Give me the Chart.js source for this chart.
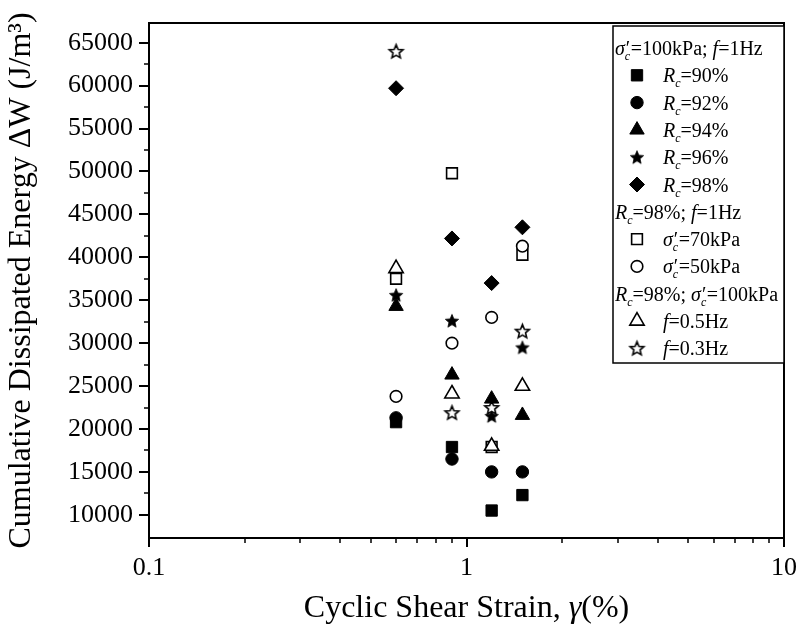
<!DOCTYPE html>
<html><head><meta charset="utf-8">
<script src="https://cdn.jsdelivr.net/npm/chart.js@4"></script>
<style>html,body{margin:0;padding:0;background:#fff;}#wrap{width:803px;height:626px;}</style>
</head><body>
<div id="wrap"><canvas id="c" width="803" height="626"></canvas></div>
<script>
// ---------- data ----------
const strain = [0.6, 0.9, 1.2, 1.5];
const rc90 = [20800, 17900, 10500, 12300];
const rc92 = [21300, 16500, 15000, 15000];
const rc94 = [34300, 26300, 23500, 21600];
const rc96 = [35600, 32600, 21500, 29500];
const rc98 = [59700, 42200, 37000, 43500];
const sig70 = [37500, 49800, 17900, 40300];
const sig50 = [23800, 30000, 33000, 41300];
const f05 = [38700, 24100, 18000, 25000];
const f03 = [64000, 21900, 22500, 31400];
const xTicks = [0.1, 1, 10];
const xMinor = [0.2,0.3,0.4,0.5,0.6,0.7,0.8,0.9,2,3,4,5,6,7,8,9];
const yTicks = [10000,15000,20000,25000,30000,35000,40000,45000,50000,55000,60000,65000];
const yMinor = [12500,17500,22500,27500,32500,37500,42500,47500,52500,57500,62500];

const FONT = '"Liberation Serif", "DejaVu Serif", serif';

function makeStar(r, filled){
  const s = Math.ceil(r*2 + 4);
  const cv = document.createElement('canvas');
  cv.width = s; cv.height = s;
  const c = cv.getContext('2d');
  const cx = s/2, cy = s/2 + r*0.08, ri = r*0.45;
  c.beginPath();
  for (let i = 0; i < 10; i++){
    const rr = i % 2 ? ri : r;
    const a = -Math.PI/2 + i*Math.PI/5;
    const px = cx + rr*Math.cos(a), py = cy + rr*Math.sin(a);
    i ? c.lineTo(px, py) : c.moveTo(px, py);
  }
  c.closePath();
  c.fillStyle = filled ? '#000' : '#fff';
  c.fill();
  c.lineJoin = 'miter';
  c.lineWidth = filled ? 0.8 : 1.6;
  c.strokeStyle = '#000';
  c.stroke();
  return cv;
}
const starFilled = makeStar(7, true);
const starOpen = makeStar(7.2, false);

function mk(label, vals, style, filled, r){
  return {
    label, data: strain.map((x, i) => ({x, y: vals[i]})),
    pointStyle: style, pointRadius: r, pointHoverRadius: r,
    backgroundColor: filled ? '#000' : '#fff', borderColor: '#000',
    borderWidth: filled ? 1 : 1.6, showLine: false
  };
}
const datasets = [
  mk('Rc=90%', rc90, 'rect', true, 8),
  mk('Rc=92%', rc92, 'circle', true, 6.2),
  mk('Rc=94%', rc94, 'triangle', true, 8.3),
  mk('Rc=96%', rc96, starFilled, true, 7),
  mk('Rc=98%', rc98, 'rectRot', true, 7.5),
  mk('70kPa', sig70, 'rect', false, 7.6),
  mk('50kPa', sig50, 'circle', false, 5.8),
  mk('0.5Hz', f05, 'triangle', false, 8.3),
  mk('0.3Hz', f03, starOpen, false, 7.2)
];
datasets.forEach((d, i) => d.order = datasets.length - i);

// ---------- legend rows ----------
const RC = [{t:'R', it:1}, {t:'c', it:1, sub:1}];
const SG = [{t:'σ', it:1}, {pc:1}];
const legendRows = [
  {parts: [...SG, {t:'=100kPa; '}, {t:'f', it:1}, {t:'=1Hz'}]},
  {ds: 0, parts: [...RC, {t:'=90%'}]},
  {ds: 1, parts: [...RC, {t:'=92%'}]},
  {ds: 2, parts: [...RC, {t:'=94%'}]},
  {ds: 3, parts: [...RC, {t:'=96%'}]},
  {ds: 4, parts: [...RC, {t:'=98%'}]},
  {parts: [...RC, {t:'=98%; '}, {t:'f', it:1}, {t:'=1Hz'}]},
  {ds: 5, parts: [...SG, {t:'=70kPa'}]},
  {ds: 6, parts: [...SG, {t:'=50kPa'}]},
  {parts: [...RC, {t:'=98%; '}, ...SG, {t:'=100kPa'}]},
  {ds: 7, parts: [{t:'f', it:1}, {t:'=0.5Hz'}]},
  {ds: 8, parts: [{t:'f', it:1}, {t:'=0.3Hz'}]}
];

function drawRich(ctx, x, y, parts, size){
  const sub = Math.round(size*0.62);
  for (const p of parts){
    if (p.pc){
      ctx.font = `${size}px ${FONT}`;
      ctx.fillText('′', x + 1, y);
      const w1 = ctx.measureText('′').width;
      ctx.font = `italic ${sub}px ${FONT}`;
      ctx.fillText('c', x, y + size*0.25);
      const w2 = ctx.measureText('c').width;
      x += Math.max(w1 + 1, w2) + 0.5;
      continue;
    }
    const s = p.sub ? sub : size;
    ctx.font = `${p.it ? 'italic ' : ''}${s}px ${FONT}`;
    ctx.fillText(p.t, x, y + (p.sub ? size*0.25 : 0));
    x += ctx.measureText(p.t).width;
  }
  return x;
}
function richWidth(ctx, parts, size){
  ctx.save(); ctx.globalAlpha = 0;
  const w = drawRich(ctx, 0, -1000, parts, size);
  ctx.restore(); return w;
}

const decor = {
  id: 'decor',
  afterDraw(chart){
    const ctx = chart.ctx, a = chart.chartArea;
    const xs = chart.scales.x, ys = chart.scales.y;
    ctx.save();
    ctx.strokeStyle = '#000'; ctx.fillStyle = '#000';
    ctx.lineWidth = 2;
    ctx.beginPath();
    ctx.moveTo(a.left, a.top); ctx.lineTo(a.right, a.top); ctx.lineTo(a.right, a.bottom);
    ctx.stroke();
    ctx.lineWidth = 1.5;
    ctx.beginPath();
    xMinor.forEach(v => { const px = Math.round(xs.getPixelForValue(v)); ctx.moveTo(px, a.bottom); ctx.lineTo(px, a.bottom + 5); });
    yMinor.forEach(v => { const py = Math.round(ys.getPixelForValue(v)); ctx.moveTo(a.left, py); ctx.lineTo(a.left - 5, py); });
    ctx.stroke();
    const tparts = [{t:'Cyclic Shear Strain, '}, {t:'γ', it:1}, {t:'(%)'}];
    const tw = richWidth(ctx, tparts, 32);
    ctx.textBaseline = 'alphabetic'; ctx.textAlign = 'left';
    drawRich(ctx, (a.left + a.right)/2 - tw/2, 617, tparts, 32);
    // legend
    const rowH = 27.3, row0 = 48;
    const L = 613, T = 26, R = 784, B = Math.round(row0 + rowH*11 + 15);
    ctx.lineWidth = 1.5;
    ctx.fillStyle = '#fff';
    ctx.fillRect(L, T, R - L, B - T);
    ctx.strokeRect(L, T, R - L, B - T);
    ctx.fillStyle = '#000';
    legendRows.forEach((row, k) => {
      const cy = row0 + rowH*k;
      if (row.ds === undefined){
        drawRich(ctx, 615, cy + 7, row.parts, 20);
      } else {
        const d = chart.data.datasets[row.ds];
        ctx.save();
        ctx.fillStyle = d.backgroundColor; ctx.strokeStyle = d.borderColor; ctx.lineWidth = d.borderWidth;
        Chart.helpers.drawPoint(ctx, {pointStyle: d.pointStyle, radius: d.pointRadius, rotation: 0, borderWidth: d.borderWidth}, 637, cy);
        ctx.restore();
        ctx.fillStyle = '#000';
        drawRich(ctx, 663, cy + 7, row.parts, 20);
      }
    });
    ctx.restore();
  }
};

new Chart(document.getElementById('c'), {
  type: 'scatter',
  data: {datasets},
  options: {
    responsive: false, animation: false, devicePixelRatio: 1,
    layout: {padding: {top: 23, right: 16, bottom: 0, left: 0}},
    plugins: {legend: {display: false}, tooltip: {enabled: false}},
    scales: {
      x: {
        type: 'logarithmic', min: 0.1, max: 10,
        afterBuildTicks: s => { s.ticks = xTicks.map(v => ({value: v})); },
        afterFit: s => { s.height = 88; },
        ticks: {callback: v => String(v), font: {family: FONT, size: 26}, color: '#000', padding: 6, maxRotation: 0, autoSkip: false},
        grid: {drawOnChartArea: false, drawTicks: true, tickLength: 9, color: '#000', lineWidth: 2},
        border: {display: true, color: '#000', width: 2}
      },
      y: {
        type: 'linear', min: 7300, max: 67300,
        afterBuildTicks: s => { s.ticks = yTicks.map(v => ({value: v})); },
        afterFit: s => { s.width = 149; },
        ticks: {callback: v => String(v), font: {family: FONT, size: 26}, color: '#000', padding: 6, autoSkip: false},
        grid: {drawOnChartArea: false, drawTicks: true, tickLength: 10, color: '#000', lineWidth: 2},
        border: {display: true, color: '#000', width: 2},
        title: {display: true, text: 'Cumulative Dissipated Energy ΔW (J/m³)', font: {family: FONT, size: 32}, color: '#000', padding: {top: 2, bottom: 0}}
      }
    }
  },
  plugins: [decor]
});
</script>
</body></html>
